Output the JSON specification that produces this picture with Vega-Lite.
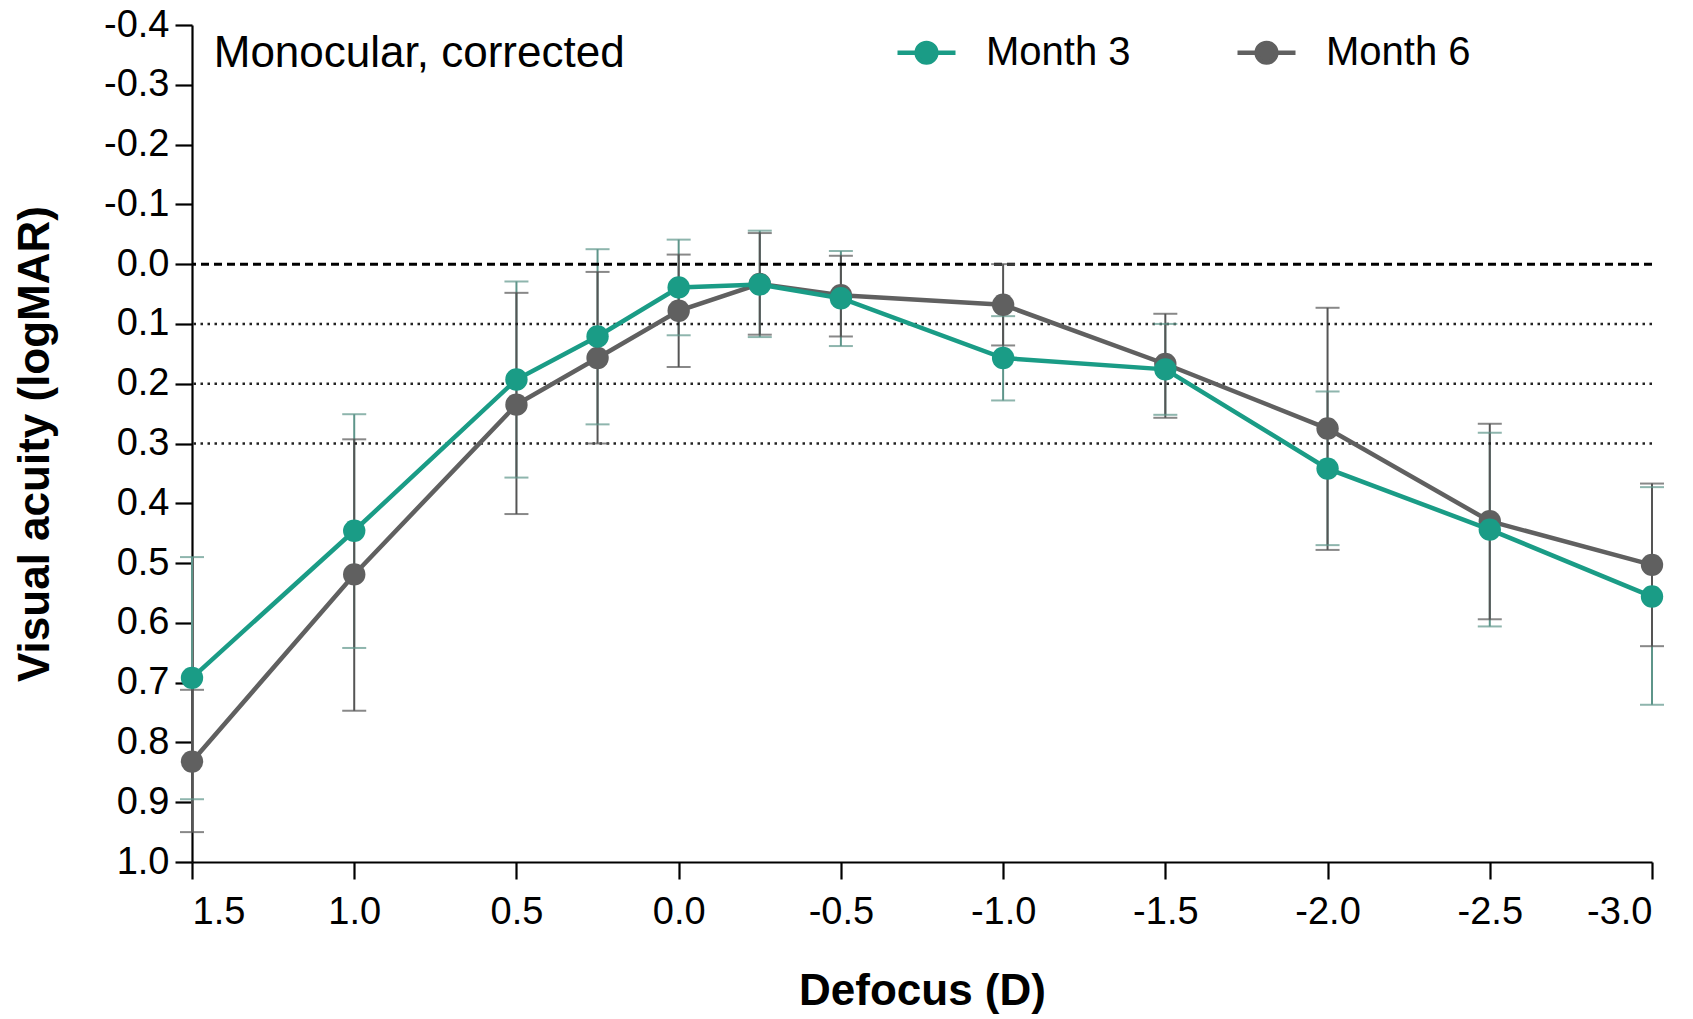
{
  "$schema": "https://vega.github.io/schema/vega-lite/v6.json",
  "autosize": {"type": "none"},
  "padding": {"left": 192, "top": 25, "right": 41, "bottom": 157},
  "width": 1460,
  "height": 837,
  "background": "white",
  "config": {
    "view": {"stroke": null},
    "font": "Liberation Sans",
    "locale": {"number": {"decimal": ".", "thousands": ",", "grouping": [3], "currency": ["$", ""], "minus": "-"}},
    "axis": {
      "domainColor": "black", "domainWidth": 2.2,
      "tickColor": "black", "tickWidth": 2.2, "tickSize": 17,
      "labelFont": "Liberation Sans", "labelFontSize": 38, "labelColor": "black",
      "titleFont": "Liberation Sans", "titleFontSize": 44, "titleFontWeight": "bold", "titleColor": "black",
      "grid": false
    }
  },
  "datasets": {
    "va": [
      {"defocus": 1.5, "month": "Month 3", "va": 0.692, "lo": 0.49, "hi": 0.895},
      {"defocus": 1.0, "month": "Month 3", "va": 0.446, "lo": 0.251, "hi": 0.642},
      {"defocus": 0.5, "month": "Month 3", "va": 0.193, "lo": 0.029, "hi": 0.357},
      {"defocus": 0.25, "month": "Month 3", "va": 0.121, "lo": -0.025, "hi": 0.268},
      {"defocus": 0.0, "month": "Month 3", "va": 0.039, "lo": -0.041, "hi": 0.119},
      {"defocus": -0.25, "month": "Month 3", "va": 0.034, "lo": -0.056, "hi": 0.122},
      {"defocus": -0.5, "month": "Month 3", "va": 0.057, "lo": -0.022, "hi": 0.137},
      {"defocus": -1.0, "month": "Month 3", "va": 0.157, "lo": 0.087, "hi": 0.228},
      {"defocus": -1.5, "month": "Month 3", "va": 0.176, "lo": 0.1, "hi": 0.252},
      {"defocus": -2.0, "month": "Month 3", "va": 0.342, "lo": 0.213, "hi": 0.47},
      {"defocus": -2.5, "month": "Month 3", "va": 0.444, "lo": 0.282, "hi": 0.606},
      {"defocus": -3.0, "month": "Month 3", "va": 0.556, "lo": 0.373, "hi": 0.737},
      {"defocus": 1.5, "month": "Month 6", "va": 0.832, "lo": 0.712, "hi": 0.95},
      {"defocus": 1.0, "month": "Month 6", "va": 0.519, "lo": 0.293, "hi": 0.747},
      {"defocus": 0.5, "month": "Month 6", "va": 0.235, "lo": 0.048, "hi": 0.418},
      {"defocus": 0.25, "month": "Month 6", "va": 0.157, "lo": 0.013, "hi": 0.3},
      {"defocus": 0.0, "month": "Month 6", "va": 0.078, "lo": -0.016, "hi": 0.172},
      {"defocus": -0.25, "month": "Month 6", "va": 0.033, "lo": -0.052, "hi": 0.118},
      {"defocus": -0.5, "month": "Month 6", "va": 0.052, "lo": -0.014, "hi": 0.121},
      {"defocus": -1.0, "month": "Month 6", "va": 0.068, "lo": 0.0, "hi": 0.136},
      {"defocus": -1.5, "month": "Month 6", "va": 0.167, "lo": 0.083, "hi": 0.257},
      {"defocus": -2.0, "month": "Month 6", "va": 0.275, "lo": 0.073, "hi": 0.478},
      {"defocus": -2.5, "month": "Month 6", "va": 0.43, "lo": 0.267, "hi": 0.594},
      {"defocus": -3.0, "month": "Month 6", "va": 0.503, "lo": 0.367, "hi": 0.639}
    ]
  },
  "layer": [
    {
      "data": {"name": "va"},
      "mark": {"type": "rule", "strokeWidth": 2},
      "encoding": {
        "x": {
          "field": "defocus", "type": "quantitative",
          "scale": {"domain": [-3.0, 1.5], "reverse": true, "nice": false, "zero": false},
          "axis": {"values": [1.5, 1.0, 0.5, 0.0, -0.5, -1.0, -1.5, -2.0, -2.5, -3.0], "format": ".1f", "title": "Defocus (D)", "labelPadding": 14, "titlePadding": 38}
        },
        "y": {
          "field": "lo", "type": "quantitative",
          "scale": {"domain": [-0.4, 1.0], "reverse": true, "nice": false, "zero": false},
          "axis": {"values": [-0.4, -0.3, -0.2, -0.1, 0.0, 0.1, 0.2, 0.3, 0.4, 0.5, 0.6, 0.7, 0.8, 0.9, 1.0], "format": ".1f", "title": "Visual acuity (logMAR)", "labelPadding": 6, "titlePadding": 46}
        },
        "y2": {"field": "hi"},
        "stroke": {"field": "month", "type": "nominal", "scale": {"range": ["#5e958a", "#555555"]}, "legend": null}
      }
    },
    {
      "data": {"values": [{"ref": 0.0}]},
      "mark": {"type": "rule", "color": "black", "strokeWidth": 3, "strokeDash": [8, 5]},
      "encoding": {"y": {"field": "ref", "type": "quantitative"}}
    },
    {
      "data": {"values": [{"ref": 0.1}, {"ref": 0.2}, {"ref": 0.3}]},
      "mark": {"type": "rule", "color": "#222222", "strokeWidth": 2.5, "strokeDash": [2.5, 4.5]},
      "encoding": {"y": {"field": "ref", "type": "quantitative"}}
    },
    {
      "data": {"name": "va"},
      "mark": {"type": "tick", "orient": "horizontal", "size": 24, "thickness": 2},
      "encoding": {
        "x": {"field": "defocus", "type": "quantitative"},
        "y": {"field": "lo", "type": "quantitative"},
        "fill": {"field": "month", "type": "nominal", "scale": {"range": ["#5e958a", "#555555"]}, "legend": null}
      }
    },
    {
      "data": {"name": "va"},
      "mark": {"type": "tick", "orient": "horizontal", "size": 24, "thickness": 2},
      "encoding": {
        "x": {"field": "defocus", "type": "quantitative"},
        "y": {"field": "hi", "type": "quantitative"},
        "fill": {"field": "month", "type": "nominal", "scale": {"range": ["#5e958a", "#555555"]}, "legend": null}
      }
    },
    {
      "data": {"name": "va"},
      "transform": [{"filter": "datum.month === 'Month 6'"}],
      "mark": {"type": "line", "strokeWidth": 4.5},
      "encoding": {
        "x": {"field": "defocus", "type": "quantitative"},
        "y": {"field": "va", "type": "quantitative"},
        "color": {
          "field": "month", "type": "nominal", "title": null,
          "scale": {"domain": ["Month 3", "Month 6"], "range": ["#1a9c86", "#606060"]},
          "legend": {
            "orient": "none", "legendX": 703, "legendY": -4, "direction": "horizontal",
            "padding": 0, "labelFont": "Liberation Sans", "labelFontSize": 40, "labelColor": "black",
            "symbolType": "M-1,0H-0.34M0.34,0H1M0.34,0A0.34,0.34 0 1 1 -0.34,0A0.34,0.34 0 1 1 0.34,0Z",
            "symbolSize": 3364, "symbolStrokeWidth": 4, "labelOffset": 28, "columnPadding": 97,
            "encode": {"symbols": {"update": {"fill": {"scale": "color", "field": "value"}, "stroke": {"scale": "color", "field": "value"}, "strokeWidth": {"value": 4.5}, "opacity": {"value": 1}}}}
          }
        }
      }
    },
    {
      "data": {"name": "va"},
      "transform": [{"filter": "datum.month === 'Month 6'"}],
      "mark": {"type": "point", "filled": true, "size": 500, "opacity": 1},
      "encoding": {
        "x": {"field": "defocus", "type": "quantitative"},
        "y": {"field": "va", "type": "quantitative"},
        "color": {"field": "month", "type": "nominal", "title": null}
      }
    },
    {
      "data": {"name": "va"},
      "transform": [{"filter": "datum.month === 'Month 3'"}],
      "mark": {"type": "line", "strokeWidth": 4.5},
      "encoding": {
        "x": {"field": "defocus", "type": "quantitative"},
        "y": {"field": "va", "type": "quantitative"},
        "color": {"field": "month", "type": "nominal", "title": null}
      }
    },
    {
      "data": {"name": "va"},
      "transform": [{"filter": "datum.month === 'Month 3'"}],
      "mark": {"type": "point", "filled": true, "size": 500, "opacity": 1},
      "encoding": {
        "x": {"field": "defocus", "type": "quantitative"},
        "y": {"field": "va", "type": "quantitative"},
        "color": {"field": "month", "type": "nominal", "title": null}
      }
    },
    {
      "data": {"values": [{"px": 1.433, "py": -0.33, "label": "Monocular, corrected"}]},
      "mark": {"type": "text", "align": "left", "baseline": "alphabetic", "font": "Liberation Sans", "fontSize": 44, "color": "black"},
      "encoding": {
        "x": {"field": "px", "type": "quantitative"},
        "y": {"field": "py", "type": "quantitative"},
        "text": {"field": "label"}
      }
    }
  ]
}
